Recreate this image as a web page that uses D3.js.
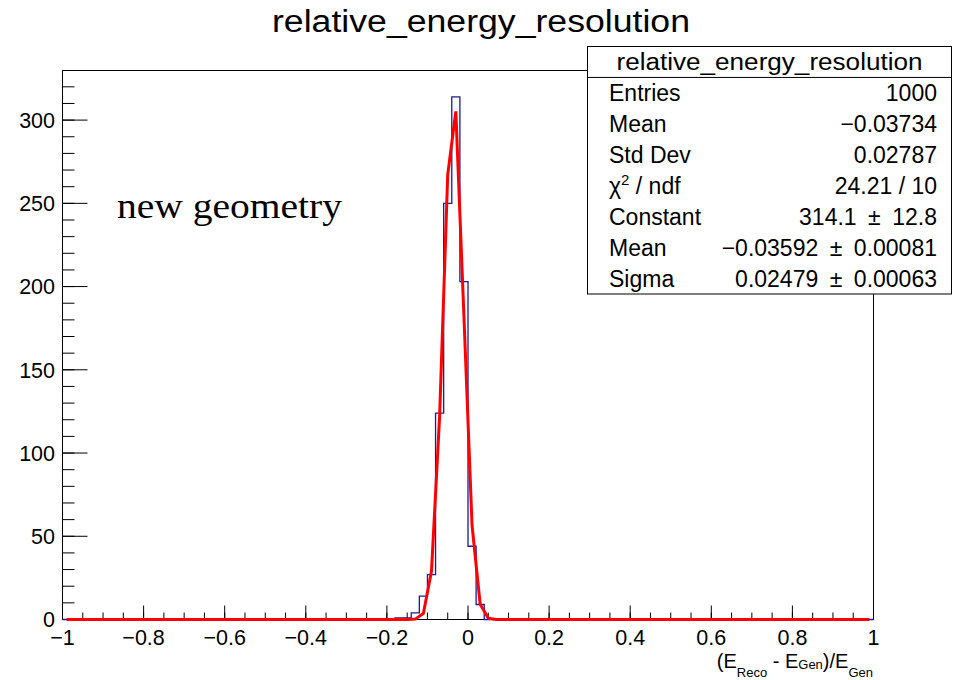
<!DOCTYPE html>
<html>
<head>
<meta charset="utf-8">
<script src="https://cdn.jsdelivr.net/npm/d3@7"></script>
<style>
  html, body { margin: 0; padding: 0; background: #fff; }
  svg { display: block; }
  text { font-family: "Liberation Sans", Arial, Helvetica, sans-serif; fill: #000; }
</style>
</head>
<body>
<svg id="chart" width="957" height="680"></svg>
<script>
// Histogram: 100 bins of width 0.02 over [-1, 1]; only the filled bins are listed.
const binWidth = 0.02;
const xRange = [-1, 1];
const filledBinLow = [-0.18, -0.16, -0.14, -0.12, -0.10, -0.08, -0.06, -0.04, -0.02, 0.00, 0.02];
const filledCounts = [1, 1, 4, 14, 27, 124, 250, 314, 203, 44, 9];

// Gaussian fit result (Constant, Mean, Sigma) and its uncertainties.
const fitNames = ["Constant", "Mean", "Sigma"];
const fitValues = [314.1, -0.03592, 0.02479];
const fitErrors = [12.8, 0.00081, 0.00063];
const fitChi2 = 24.21;
const fitNdf = 10;
const fitPoints = 100;

// Histogram statistics.
const statEntries = 1000;
const statMean = -0.03734;
const statStdDev = 0.02787;

// Axis ticks.
const xMajorTicks = [-1, -0.8, -0.6, -0.4, -0.2, 0, 0.2, 0.4, 0.6, 0.8, 1];
const xTickLabels = ["\u22121", "\u22120.8", "\u22120.6", "\u22120.4", "\u22120.2", "0", "0.2", "0.4", "0.6", "0.8", "1"];
const xMinorStep = 0.05;
const yMajorTicks = [0, 50, 100, 150, 200, 250, 300];
const yTickLabels = ["0", "50", "100", "150", "200", "250", "300"];
const yMinorStep = 10;
const yMax = 329.8;

const histTitle = "relative_energy_resolution";
const noteText = "new geometry";

const svg = d3.select("#chart");
const frame = { left: 62.5, right: 873.5, top: 70.5, bottom: 619.5 };

const x = d3.scaleLinear().domain(xRange).range([frame.left, frame.right]);
const y = d3.scaleLinear().domain([0, yMax]).range([frame.bottom, frame.top]);

const fmt = v => (v < 0 ? "\u2212" : "") + String(Math.abs(v));

// Plot frame
svg.append("rect")
  .attr("x", frame.left).attr("y", frame.top)
  .attr("width", frame.right - frame.left).attr("height", frame.bottom - frame.top)
  .attr("fill", "none").attr("stroke", "#000").attr("stroke-width", 1);

// X axis ticks (drawn inward, upward from the bottom edge)
const xMinor = d3.range(Math.round((xRange[1] - xRange[0]) / xMinorStep) + 1)
  .map(i => xRange[0] + i * xMinorStep);
const gx = svg.append("g");
gx.selectAll("line.minor").data(xMinor).join("line")
  .attr("x1", d => x(d)).attr("x2", d => x(d))
  .attr("y1", frame.bottom).attr("y2", frame.bottom - 7)
  .attr("stroke", "#000").attr("stroke-width", 1);
gx.selectAll("line.major").data(xMajorTicks).join("line")
  .attr("x1", d => x(d)).attr("x2", d => x(d))
  .attr("y1", frame.bottom).attr("y2", frame.bottom - 14)
  .attr("stroke", "#000").attr("stroke-width", 1);
gx.selectAll("text").data(xMajorTicks).join("text")
  .attr("x", d => x(d)).attr("y", 645)
  .attr("text-anchor", "middle").attr("font-size", 21.5)
  .text((d, i) => xTickLabels[i]);

// Y axis ticks (drawn inward, rightward from the left edge)
const yMinor = d3.range(0, yMax, yMinorStep);
const gy = svg.append("g");
gy.selectAll("line.minor").data(yMinor).join("line")
  .attr("x1", frame.left).attr("x2", frame.left + 12)
  .attr("y1", d => y(d)).attr("y2", d => y(d))
  .attr("stroke", "#000").attr("stroke-width", 1);
gy.selectAll("line.major").data(yMajorTicks).join("line")
  .attr("x1", frame.left).attr("x2", frame.left + 25)
  .attr("y1", d => y(d)).attr("y2", d => y(d))
  .attr("stroke", "#000").attr("stroke-width", 1);
gy.selectAll("text").data(yMajorTicks).join("text")
  .attr("x", 55).attr("y", d => y(d)).attr("dy", "0.36em")
  .attr("text-anchor", "end").attr("font-size", 21.5)
  .text((d, i) => yTickLabels[i]);

// Histogram outline (step line across the full axis range)
const nBins = Math.round((xRange[1] - xRange[0]) / binWidth);
const counts = new Array(nBins).fill(0);
filledBinLow.forEach((lo, i) => {
  counts[Math.round((lo - xRange[0]) / binWidth)] = filledCounts[i];
});
const stepPts = [[xRange[0], 0]];
counts.forEach((c, i) => {
  const lo = xRange[0] + i * binWidth;
  stepPts.push([lo, c], [lo + binWidth, c]);
});
stepPts.push([xRange[1], 0]);
svg.append("path")
  .attr("d", d3.line().x(d => x(d[0])).y(d => y(d[1]))(stepPts))
  .attr("fill", "none").attr("stroke", "#1a1aa0").attr("stroke-width", 1.3);

// Fitted Gaussian, evaluated at the bin centres of the drawing grid
const [gC, gMu, gSig] = fitValues;
const dxFit = (xRange[1] - xRange[0]) / fitPoints;
const fitCurve = d3.range(fitPoints).map(i => {
  const xv = xRange[0] + (i + 0.5) * dxFit;
  return [xv, gC * Math.exp(-0.5 * ((xv - gMu) / gSig) ** 2)];
});
svg.append("path")
  .attr("d", d3.line().x(d => x(d[0])).y(d => y(d[1]))(fitCurve))
  .attr("fill", "none").attr("stroke", "#ff0000").attr("stroke-width", 3)
  .attr("stroke-linejoin", "miter");

// Title
svg.append("text")
  .attr("x", 481).attr("y", 32).attr("text-anchor", "middle")
  .attr("font-size", 31).attr("textLength", 418).attr("lengthAdjust", "spacingAndGlyphs")
  .text(histTitle);

// Note inside the plot
svg.append("text")
  .attr("x", 117).attr("y", 218)
  .style("font-family", "'Liberation Serif', 'Times New Roman', serif")
  .attr("font-size", 36).attr("textLength", 225).attr("lengthAdjust", "spacingAndGlyphs")
  .text(noteText);

// X axis title: (E_Reco - E_Gen)/E_Gen
const xt = svg.append("text")
  .attr("x", 873).attr("y", 668).attr("text-anchor", "end").attr("font-size", 20);
xt.append("tspan").text("(E");
xt.append("tspan").attr("font-size", 13).attr("dy", 8.5).text("Reco");
xt.append("tspan").attr("dy", -8.5).text(" - E");
xt.append("tspan").attr("font-size", 13).attr("dy", 1).text("Gen");
xt.append("tspan").attr("dy", -1).text(")/E");
xt.append("tspan").attr("font-size", 13).attr("dy", 8.5).text("Gen");

// Statistics box
const box = { left: 587.5, right: 951.5, top: 46.5, bottom: 294 };
const rowH = (box.bottom - box.top) / 8;
svg.append("rect")
  .attr("x", box.left).attr("y", box.top)
  .attr("width", box.right - box.left).attr("height", box.bottom - box.top)
  .attr("fill", "#fff").attr("stroke", "#000").attr("stroke-width", 1);
svg.append("line")
  .attr("x1", box.left).attr("x2", box.right)
  .attr("y1", box.top + rowH).attr("y2", box.top + rowH)
  .attr("stroke", "#000").attr("stroke-width", 1);
svg.append("text")
  .attr("x", (box.left + box.right) / 2).attr("y", box.top + rowH / 2).attr("dy", "0.36em")
  .attr("text-anchor", "middle").attr("font-size", 23)
  .attr("textLength", 306).attr("lengthAdjust", "spacingAndGlyphs")
  .text(histTitle);

const statLabels = ["Entries", "Mean", "Std Dev", null, ...fitNames];
const statValues = [
  String(statEntries),
  fmt(statMean),
  fmt(statStdDev),
  `${fitChi2} / ${fitNdf}`,
  ...fitValues.map((v, i) => `${fmt(v)}\u2002\u00b1\u2002${fitErrors[i]}`)
];
statValues.forEach((val, i) => {
  const cy = box.top + rowH * (i + 1.5);
  const lab = svg.append("text")
    .attr("x", 609).attr("y", cy).attr("dy", "0.36em").attr("font-size", 23);
  if (statLabels[i] === null) {
    lab.append("tspan").text("\u03c7");
    lab.append("tspan").attr("font-size", 15).attr("dy", -9).text("2");
    lab.append("tspan").attr("dy", 9).text(" / ndf");
  } else {
    lab.text(statLabels[i]);
  }
  svg.append("text")
    .attr("x", 937).attr("y", cy).attr("dy", "0.36em")
    .attr("text-anchor", "end").attr("font-size", 23)
    .text(val);
});
</script>
</body>
</html>
